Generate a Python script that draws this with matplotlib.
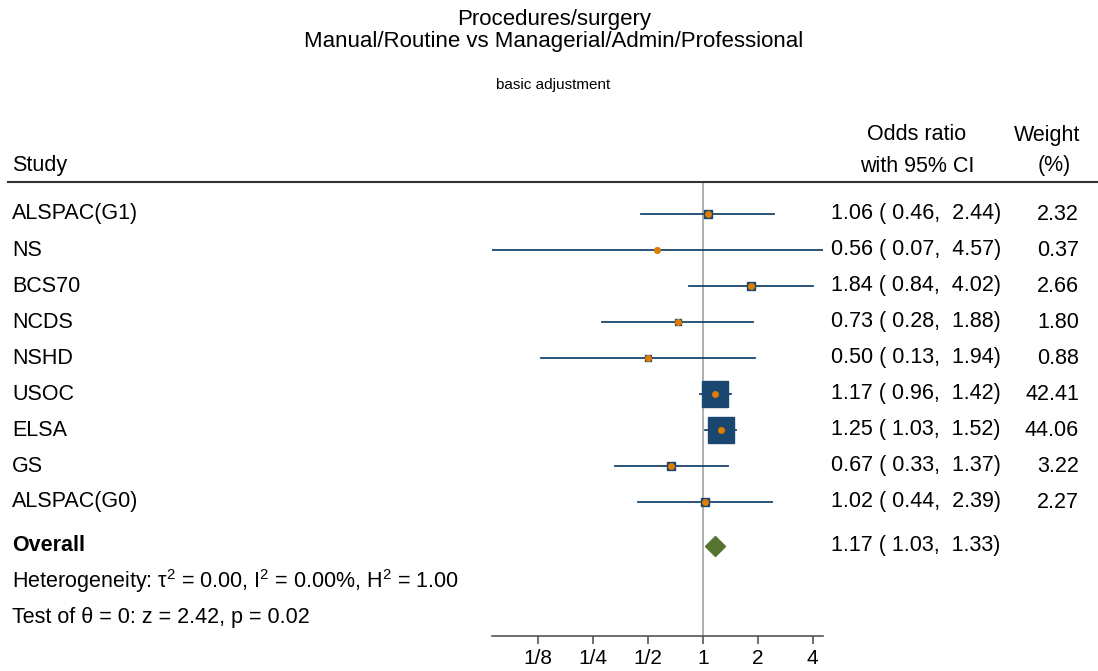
import matplotlib
matplotlib.use("Agg")
import matplotlib.pyplot as plt
from matplotlib.lines import Line2D
from matplotlib.transforms import blended_transform_factory

plt.rcParams['font.family'] = ['Liberation Sans', 'DejaVu Sans']
plt.rcParams['mathtext.fontset'] = 'custom'
plt.rcParams['mathtext.rm'] = 'Liberation Sans'
plt.rcParams['mathtext.it'] = 'Liberation Sans:italic'
plt.rcParams['mathtext.default'] = 'regular'

# data
studies = ["ALSPAC(G1)", "NS", "BCS70", "NCDS", "NSHD", "USOC", "ELSA", "GS", "ALSPAC(G0)"]
odds = [1.06, 0.56, 1.84, 0.73, 0.50, 1.17, 1.25, 0.67, 1.02]
lower = [0.46, 0.07, 0.84, 0.28, 0.13, 0.96, 1.03, 0.33, 0.44]
upper = [2.44, 4.57, 4.02, 1.88, 1.94, 1.42, 1.52, 1.37, 2.39]
weights = [2.32, 0.37, 2.66, 1.80, 0.88, 42.41, 44.06, 3.22, 2.27]
overall = (1.17, 1.03, 1.33)
tick_vals = [1/8, 1/4, 1/2, 1, 2, 4]
tick_labels = ["1/8", "1/4", "1/2", "1", "2", "4"]

NAVY = "#1a476f"
ORANGE = "#e07c00"
GREEN = "#55752f"
W, H = 1098, 671
FS = 15.5

fig = plt.figure(figsize=(W / 100, H / 100), dpi=100)

def fx(px):
    return px / W

def fy(py):
    return 1 - py / H

# forest panel: from header rule (y=182) to axis line (y=636)
ax = fig.add_axes([fx(492.3), fy(636), fx(823.3) - fx(492.3), fy(182) - fy(636)])
ax.set_xscale('log', base=2)
ax.set_xlim(min(lower), max(upper))
row0, step = 214, 36
ax.set_ylim((636 - row0) / step, (182 - row0) / step)
ax.set_xticks(tick_vals)
ax.set_xticklabels(tick_labels, fontsize=15)
ax.minorticks_off()
ax.set_yticks([])
for s in ['top', 'left', 'right']:
    ax.spines[s].set_visible(False)
ax.spines['bottom'].set_color('#555555')
ax.spines['bottom'].set_linewidth(1.2)
ax.tick_params(axis='x', length=6, width=1.2, color='#555555', pad=3)
ax.patch.set_alpha(0)

ax.axvline(1, color='#b0b0b0', lw=1.4, zorder=0)

for i in range(len(studies)):
    ax.plot([lower[i], upper[i]], [i, i], color=NAVY, lw=1.3, zorder=2)
    side = 2.6 * weights[i] ** 0.5 + 1.5
    ax.plot(odds[i], i, marker='s', ms=side, color=NAVY, mec=NAVY, mew=1.0, zorder=3)
    ax.plot(odds[i], i, marker='o', ms=5, color=ORANGE, mec=ORANGE, mew=0, zorder=4)

ov_row = len(studies) + 0.22
ax.plot(overall[0], ov_row, marker='D', ms=10.5, color=GREEN, mec=GREEN, zorder=3, clip_on=False)

# header rule
fig.add_artist(Line2D([fx(8), 1.0], [fy(182), fy(182)], color='#333333', lw=1.5))

# titles
fig.text(fx(554), fy(20), "Procedures/surgery", ha='center', va='center', fontsize=16)
fig.text(fx(554), fy(42), "Manual/Routine vs Managerial/Admin/Professional",
         ha='center', va='center', fontsize=16)
fig.text(fx(553), fy(85), "basic adjustment", ha='center', va='center', fontsize=11)

# column headers
fig.text(fx(12), fy(166), "Study", ha='left', va='center', fontsize=FS)
fig.text(fx(917), fy(135), "Odds ratio", ha='center', va='center', fontsize=FS)
fig.text(fx(917), fy(166), "with 95% CI", ha='center', va='center', fontsize=FS)
fig.text(fx(1047), fy(135), "Weight", ha='center', va='center', fontsize=FS)
fig.text(fx(1054), fy(166), "(%)", ha='center', va='center', fontsize=FS)

tr = blended_transform_factory(fig.transFigure, ax.transData)
for i, name in enumerate(studies):
    fig.text(fx(12), i, name, transform=tr, ha='left', va='center', fontsize=FS)
    fig.text(fx(831), i, f"{odds[i]:.2f} ( {lower[i]:.2f},  {upper[i]:.2f})",
             transform=tr, ha='left', va='center', fontsize=FS)
    fig.text(fx(1079), i, f"{weights[i]:.2f}", transform=tr, ha='right', va='center', fontsize=FS)

fig.text(fx(12), ov_row, "Overall", transform=tr, ha='left', va='center', fontsize=FS, fontweight='bold')
fig.text(fx(831), ov_row, f"{overall[0]:.2f} ( {overall[1]:.2f},  {overall[2]:.2f})",
         transform=tr, ha='left', va='center', fontsize=FS)
fig.text(fx(12), fy(581), "Heterogeneity: \u03c4$^2$ = 0.00, I$^2$ = 0.00%, H$^2$ = 1.00",
         ha='left', va='center', fontsize=FS)
fig.text(fx(12), fy(618), "Test of \u03b8 = 0: z = 2.42, p = 0.02", ha='left', va='center', fontsize=FS)

fig.savefig("out.png", dpi=100)
